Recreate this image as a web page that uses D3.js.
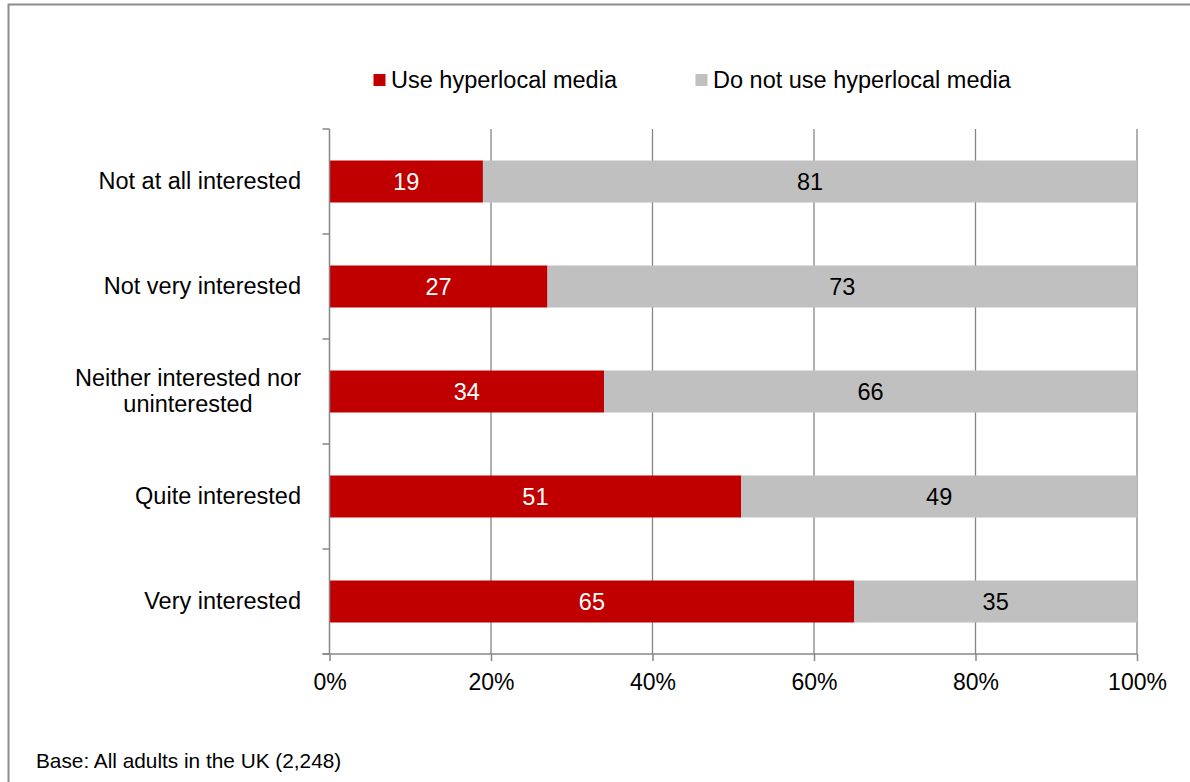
<!DOCTYPE html>
<html>
<head>
<meta charset="utf-8">
<script src="https://cdn.jsdelivr.net/npm/d3@7/dist/d3.min.js"></script>
<style>
  html, body { margin: 0; padding: 0; background: #fff; overflow: hidden; }
  svg { display: block; font-family: Arial, "Liberation Sans", sans-serif; }
</style>
</head>
<body>
<svg id="chart" width="1190" height="782"></svg>
<script>
// Interest in local news vs. use of hyperlocal media (% of adults)
const categories = [
  "Not at all interested",
  "Not very interested",
  "Neither interested nor uninterested",
  "Quite interested",
  "Very interested"
];
const categoryLines = [
  ["Not at all interested"],
  ["Not very interested"],
  ["Neither interested nor", "uninterested"],
  ["Quite interested"],
  ["Very interested"]
];
const useValues = [19, 27, 34, 51, 65];
const notUseValues = [81, 73, 66, 49, 35];
const seriesNames = ["Use hyperlocal media", "Do not use hyperlocal media"];
const seriesColors = ["#C00000", "#C0C0C0"];
const labelColors = ["#ffffff", "#000000"];
const xTicks = [0, 20, 40, 60, 80, 100];
const footnote = "Base: All adults in the UK (2,248)";

const svg = d3.select("#chart");
const axisColor = "#868686";
const fontSize = 23.5;

// Outer frame (runs off the right and bottom edges)
svg.append("path")
  .attr("d", "M8.5,790V4.5H1200")
  .attr("fill", "none").attr("stroke", "#8c8c8c").attr("stroke-width", 2);

const plot = { left: 329.5, right: 1137, top: 129, bottom: 654 };

const x = d3.scaleLinear().domain([0, 100]).range([plot.left, plot.right]);
const yBand = d3.scaleBand().domain(categories).range([plot.top, plot.bottom]);

// Vertical gridlines
svg.append("g").selectAll("line")
  .data(xTicks.filter(t => t > 0))
  .join("line")
  .attr("x1", d => x(d)).attr("x2", d => x(d))
  .attr("y1", plot.top).attr("y2", plot.bottom)
  .attr("stroke", axisColor).attr("stroke-width", 1.3);

// Stacked bars
const stackData = categories.map((c, i) => ({ cat: c, use: useValues[i], notUse: notUseValues[i] }));
const stack = d3.stack().keys(["use", "notUse"])(stackData);

const bh = 42;
stack.forEach((layer, li) => {
  const g = svg.append("g");
  g.selectAll("rect")
    .data(layer)
    .join("rect")
    .attr("x", d => x(d[0]))
    .attr("width", d => x(d[1]) - x(d[0]))
    .attr("y", d => yBand(d.data.cat) + yBand.bandwidth() / 2 - bh / 2)
    .attr("height", bh)
    .attr("fill", seriesColors[li]);
  g.selectAll("text")
    .data(layer)
    .join("text")
    .attr("x", d => (x(d[0]) + x(d[1])) / 2)
    .attr("y", d => yBand(d.data.cat) + yBand.bandwidth() / 2 + 8.5)
    .attr("text-anchor", "middle")
    .attr("font-size", fontSize)
    .attr("fill", labelColors[li])
    .text(d => d[1] - d[0]);
});

// X axis
const xAxis = d3.axisBottom(x).tickValues(xTicks).tickFormat(d => d + "%").tickSize(7).tickPadding(13);
const gx = svg.append("g").attr("transform", `translate(0,${plot.bottom})`).call(xAxis);
gx.select(".domain").attr("d", `M${plot.left - 7},0H${plot.right}`).attr("stroke", axisColor).attr("stroke-width", 1.5);
gx.selectAll(".tick line").attr("stroke", axisColor).attr("stroke-width", 1.5);
gx.selectAll(".tick text").attr("font-size", 23).attr("fill", "#000").attr("font-family", "Arial, 'Liberation Sans', sans-serif");

// Y axis: line with ticks at category boundaries
const boundaries = d3.range(categories.length + 1).map(i => plot.top + i * yBand.bandwidth());
const gy = svg.append("g");
gy.append("line")
  .attr("x1", plot.left).attr("x2", plot.left)
  .attr("y1", plot.top).attr("y2", plot.bottom)
  .attr("stroke", axisColor).attr("stroke-width", 1.5);
gy.selectAll(".yt").data(boundaries).join("line")
  .attr("class", "yt")
  .attr("x1", plot.left - 7).attr("x2", plot.left)
  .attr("y1", d => d).attr("y2", d => d)
  .attr("stroke", axisColor).attr("stroke-width", 1.5);

// Category labels (multi-line labels centred as a block, right-aligned to axis)
const labelRight = 301;
categoryLines.forEach((lines, i) => {
  const cy = yBand(categories[i]) + yBand.bandwidth() / 2;
  const lh = 26;
  const t = svg.append("text").attr("font-size", fontSize).attr("fill", "#000");
  const spans = lines.map(ln => t.append("tspan").text(ln));
  const widths = spans.map(s => s.node().getComputedTextLength());
  const maxW = d3.max(widths);
  const centerX = labelRight - maxW / 2;
  const y0 = cy + 7.5 - (lines.length - 1) * lh / 2;
  spans.forEach((s, j) => {
    s.attr("x", centerX).attr("y", y0 + j * lh).attr("text-anchor", "middle");
  });
});

// Legend
const legendItems = [
  { name: seriesNames[0], color: seriesColors[0], x: 373.5 },
  { name: seriesNames[1], color: seriesColors[1], x: 695.5 }
];
const lg = svg.append("g");
legendItems.forEach(it => {
  lg.append("rect").attr("x", it.x).attr("y", 74).attr("width", 12).attr("height", 12).attr("fill", it.color);
  lg.append("text").attr("x", it.x + 17.5).attr("y", 88).attr("font-size", fontSize).attr("fill", "#000").text(it.name);
});

// Footnote
svg.append("text").attr("x", 36).attr("y", 767.5).attr("font-size", 20.8).attr("fill", "#000").text(footnote);
</script>
</body>
</html>
